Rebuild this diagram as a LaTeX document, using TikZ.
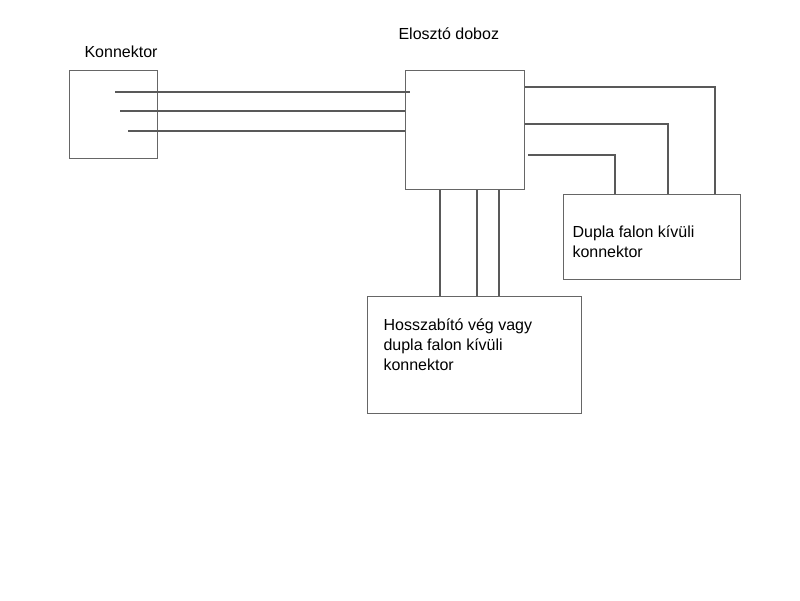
\documentclass[tikz,border=0pt]{standalone}
\usepackage{fontspec}
\setmainfont{Liberation Sans}
\usepackage{tikz}

\begin{document}
\begin{tikzpicture}[
    x=1pt,y=-1pt,
    line width=1.1pt,
    box/.style={
        rectangle,
        draw=black!60,
        anchor=north west,
        inner sep=0pt
      },
    wire/.style={draw=black!65},
    lbl/.style={
        anchor=base west,
        inner sep=0pt,
        align=left,
        font=\fontsize{16}{20}\selectfont
      }
    ]

    \useasboundingbox[fill=white] (0,0) rectangle (800,600);

    \node[box,minimum width=88pt,minimum height=88pt] (konn) at (69,70) {};
    \node[box,minimum width=119pt,minimum height=119pt] (eloszto) at (405,70) {};
    \node[box,minimum width=177pt,minimum height=85pt] (dupla) at (563,194) {};
    \node[box,minimum width=214pt,minimum height=117pt] (hossz) at (367,296) {};

    % multi-line labels sit on their last baseline
    \node[lbl] (konnlbl) at (84,57) {Konnektor};
    \node[lbl] (elosztolbl) at (398,39) {Elosztó doboz};
    \node[lbl] (duplalbl) at (572,257) {Dupla falon kívüli\\konnektor};
    \node[lbl] (hosszlbl) at (383,370) {Hosszabító vég vagy\\dupla falon kívüli\\konnektor};

    % konnektor -> eloszto doboz
    \draw[wire] (konn.north west) ++(46,22) coordinate (k1) -- ([xshift=5pt]k1 -| eloszto.west);
    \draw[wire] (konn.north west) ++(51,41) coordinate (k2) -- (k2 -| eloszto.west);
    \draw[wire] (konn.north west) ++(59,61) coordinate (k3) -- (k3 -| eloszto.west);

    % eloszto doboz -> dupla
    \coordinate (d1) at (615,194);
    \coordinate (d2) at (668,194);
    \coordinate (d3) at (715,194);
    \draw[wire] (eloszto.north east) ++(0,17) -| (d3);
    \draw[wire] (eloszto.north east) ++(0,54) -| (d2);
    \draw[wire] (eloszto.north east) ++(3,85) -| (d1);

    % eloszto doboz -> hosszabito
    \draw[wire] (eloszto.south west) ++(35,0) coordinate (e1) -- (e1 |- hossz.north);
    \draw[wire] (eloszto.south west) ++(72,0) coordinate (e2) -- (e2 |- hossz.north);
    \draw[wire] (eloszto.south west) ++(94,0) coordinate (e3) -- (e3 |- hossz.north);

  \end{tikzpicture}
\end{document}
